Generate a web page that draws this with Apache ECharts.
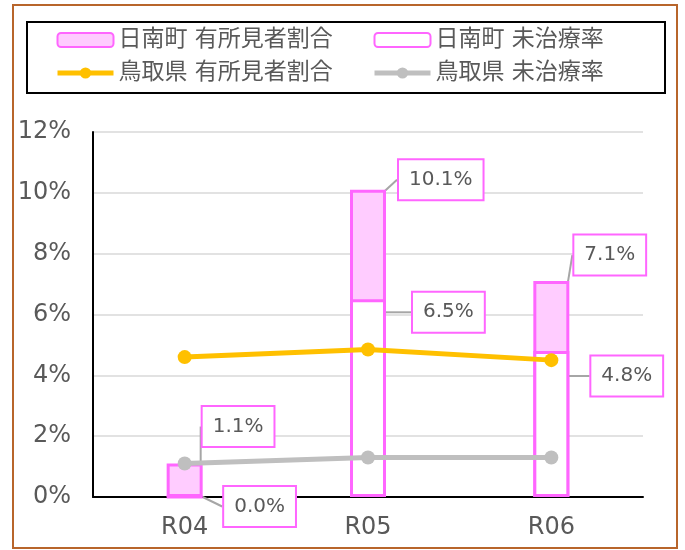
<!DOCTYPE html>
<html><head><meta charset="utf-8">
<script src="https://cdn.jsdelivr.net/npm/echarts@6/dist/echarts.min.js"></script>
<style>html,body{margin:0;padding:0;background:#fff}#c{width:685px;height:550px}</style>
</head><body><div id="c"></div>
<script>
const categories = ['R04', 'R05', 'R06'];
const townFindings = [1.1, 10.1, 7.1];     // 日南町 有所見者割合
const townUntreated = [0.0, 6.5, 4.8];     // 日南町 未治療率
const prefFindings = [4.6, 4.85, 4.5];     // 鳥取県 有所見者割合
const prefUntreated = [1.1, 1.3, 1.3];     // 鳥取県 未治療率
const yTicks = [0, 2, 4, 6, 8, 10, 12];

// label offsets (layout only): [dx from bar right edge, dy from bar top]
const findingsLabelOffset = [[0, -37], [13, -10], [5, -26]];
const untreatedLabelOffset = [[20, 11], [27, 13], [22, 25]];

const FONT = '"DejaVu Sans","Noto Sans CJK JP",sans-serif';
const PINK = '#ff66ff';
const TXT = '#595959';

const chart = echarts.init(document.getElementById('c'), null, {renderer: 'canvas'});

const labelStyle = {
  show: true,
  formatter: p => p.value.toFixed(1) + '%',
  backgroundColor: '#fff',
  borderColor: PINK,
  borderWidth: 2,
  padding: [10, 10, 9, 10],
  color: TXT,
  fontSize: 20,
  fontFamily: FONT
};
const labelLine = {show: true, lineStyle: {color: '#a6a6a6', width: 2}};

function layoutFn(offsets) {
  return function (p) {
    const o = offsets[p.dataIndex];
    return {
      x: p.rect.x + p.rect.width + o[0],
      y: p.rect.y + o[1],
      align: 'left',
      verticalAlign: 'middle'
    };
  };
}

const legendText = {color: TXT, fontSize: 23, lineHeight: 24, fontFamily: FONT};
const legendCommon = {orient: 'vertical', top: 28, itemGap: 9, itemWidth: 56, itemHeight: 14,
  textStyle: legendText, padding: 0, lineStyle: {width: 5, inactiveWidth: 5}};

chart.setOption({
  animation: false,
  backgroundColor: '#fff',
  graphic: [
    {type: 'rect', shape: {x: 13, y: 5, width: 664, height: 543}, style: {fill: 'none', stroke: '#b8652b', lineWidth: 2}, z: 100},
    {type: 'rect', shape: {x: 27, y: 22, width: 638, height: 71}, style: {fill: 'none', stroke: '#000', lineWidth: 2}, z: 100}
  ],
  legend: [
    Object.assign({left: 55, data: ['日南町 有所見者割合', '鳥取県 有所見者割合']}, legendCommon),
    Object.assign({left: 372, data: ['日南町 未治療率', '鳥取県 未治療率']}, legendCommon)
  ],
  grid: {left: 93, right: 42, top: 132, bottom: 53},
  xAxis: {
    type: 'category',
    data: categories,
    axisLine: {lineStyle: {color: '#000', width: 2}},
    axisTick: {show: false},
    axisLabel: {color: TXT, fontSize: 24, fontFamily: FONT, margin: 19}
  },
  yAxis: {
    type: 'value',
    min: yTicks[0], max: yTicks[yTicks.length - 1], interval: 2,
    axisLine: {show: true, lineStyle: {color: '#000', width: 2}},
    axisTick: {show: false},
    axisLabel: {color: TXT, fontSize: 24, fontFamily: FONT, margin: 22, formatter: '{value}%'},
    splitLine: {lineStyle: {color: '#d9d9d9', width: 1.5}}
  },
  series: [
    {
      name: '日南町 有所見者割合', type: 'bar', data: townFindings,
      barWidth: 36, barGap: '-100%',
      itemStyle: {color: '#ffccff', borderColor: PINK, borderWidth: 3},
      label: Object.assign({position: 'top'}, labelStyle),
      labelLine: labelLine,
      labelLayout: layoutFn(findingsLabelOffset),
      z: 2
    },
    {
      name: '日南町 未治療率', type: 'bar', data: townUntreated,
      barWidth: 36, barGap: '-100%',
      itemStyle: {color: '#ffffff', borderColor: PINK, borderWidth: 3},
      label: Object.assign({position: 'top'}, labelStyle),
      labelLine: labelLine,
      labelLayout: layoutFn(untreatedLabelOffset),
      z: 3
    },
    {
      name: '鳥取県 有所見者割合', type: 'line', data: prefFindings,
      symbol: 'circle', symbolSize: 14,
      lineStyle: {color: '#ffc000', width: 5},
      itemStyle: {color: '#ffc000'},
      z: 4
    },
    {
      name: '鳥取県 未治療率', type: 'line', data: prefUntreated,
      symbol: 'circle', symbolSize: 14,
      lineStyle: {color: '#bfbfbf', width: 5},
      itemStyle: {color: '#bfbfbf'},
      z: 4
    }
  ]
});
</script></body></html>
